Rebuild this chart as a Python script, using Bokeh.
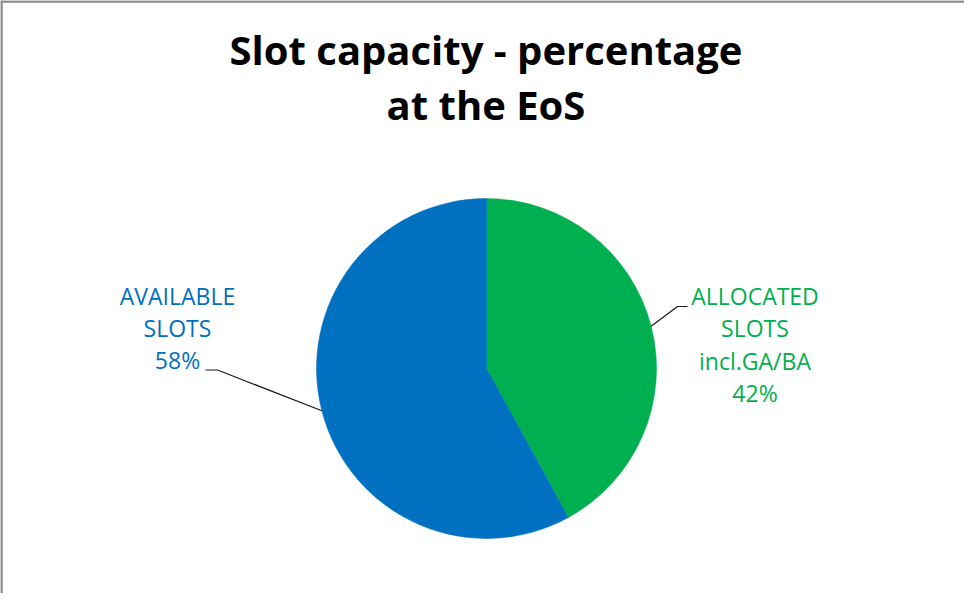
import math
from bokeh.plotting import figure
from bokeh.models import Range1d
from bokeh.core.properties import value
from bokeh.embed import file_html
from bokeh.resources import INLINE

# ---- data ----
categories = ["ALLOCATED SLOTS incl.GA/BA", "AVAILABLE SLOTS"]
shares = [42, 58]
colors = ["#00B050", "#0070C0"]
label_lines = [["ALLOCATED", "SLOTS", "incl.GA/BA"], ["AVAILABLE", "SLOTS"]]
title_lines = ["Slot capacity - percentage", "at the EoS"]

W, H = 964, 593
FONT = "Open Sans"
BASE_SHIFT = 0.42  # empirical correction of rendered baseline (em)


def px(x, y):
    """page pixel -> data coords"""
    return x - 8, 601 - y


p = figure(width=W, height=H, x_range=Range1d(0, W), y_range=Range1d(0, H),
           output_backend="svg", toolbar_location=None, min_border=0)
p.axis.visible = False
p.grid.visible = False
p.outline_line_color = None
p.background_fill_color = "white"
p.border_fill_color = "white"

# frame border (top and left visible in the reference)
p.segment(x0=[0, 1], y0=[H - 1, 0], x1=[W, 1], y1=[H - 1, H], line_color="#8a8a8a", line_width=2.5)

# title
TSIZE = 40
tx, _ = px(493.5, 0)
for line, by in zip(title_lines, [73.5, 129]):
    _, ty = px(0, by - BASE_SHIFT * TSIZE)
    p.text(x=[tx], y=[ty], text=[line], text_font=value(FONT), text_font_style="bold",
           text_font_size=f"{TSIZE}px", text_color="black", text_align="center",
           text_baseline="alphabetic")

# pie
cx, cy = px(494, 376)
R = 170
total = sum(shares)
starts, ends, mids = [], [], []
cum = 0
for s in shares:
    end = math.pi / 2 - 2 * math.pi * cum / total
    start = end - 2 * math.pi * s / total
    starts.append(start)
    ends.append(end)
    mids.append((start + end) / 2)
    cum += s

p.wedge(x=[cx] * len(shares), y=[cy] * len(shares), radius=R, start_angle=starts, end_angle=ends,
        fill_color=colors, line_color=colors, line_width=0.5)

# labels with leader lines
LSIZE = 23
elbows = [(685, 314, 695), (225, 377.5, 213)]   # page x of elbow, page y, page x of horizontal end
label_pos = [(762.5, [313.5, 345.5, 378, 410.5]), (185, [313, 345, 377.5])]
for i, s in enumerate(shares):
    ex, ey = px(elbows[i][0], elbows[i][1])
    hx, _ = px(elbows[i][2], 0)
    sx = cx + R * math.cos(mids[i])
    sy = cy + R * math.sin(mids[i])
    p.line(x=[sx, ex, hx], y=[sy, ey, ey], line_color="#1a1a1a", line_width=1.2)
    lines = label_lines[i] + [f"{s}%"]
    lx, _ = px(label_pos[i][0], 0)
    for line, by in zip(lines, label_pos[i][1]):
        _, ly = px(0, by - BASE_SHIFT * LSIZE)
        p.text(x=[lx], y=[ly], text=[line], text_font=value(FONT), text_font_size=f"{LSIZE}px",
               text_color=colors[i], text_align="center", text_baseline="alphabetic")

open("out.html", "w").write(file_html(p, INLINE))
